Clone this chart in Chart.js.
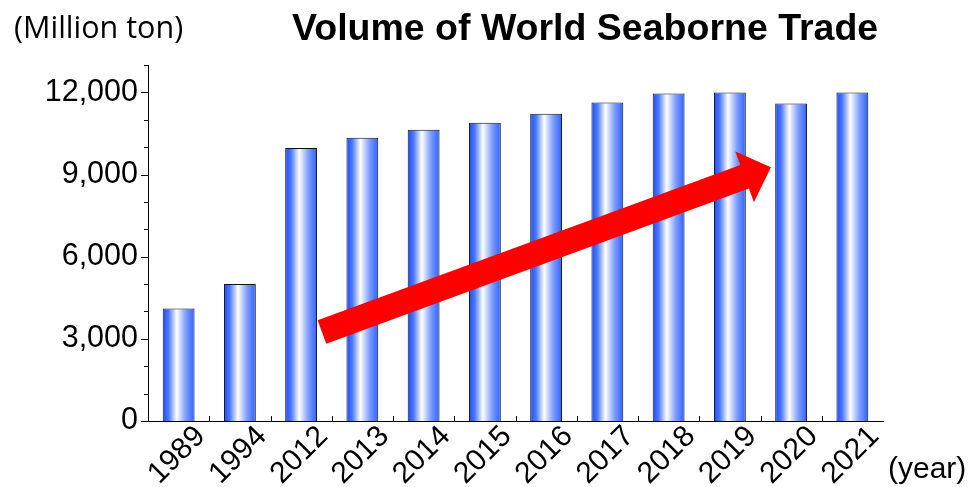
<!DOCTYPE html>
<html>
<head>
<meta charset="utf-8">
<script src="https://cdn.jsdelivr.net/npm/chart.js@4"></script>
<style>
  html, body { margin: 0; padding: 0; background: #fff; }
  #wrap { width: 976px; height: 487px; }
</style>
</head>
<body>
<div id="wrap"><canvas id="tradeChart"></canvas></div>
<script>
// Values (million ton)
const years = ['1989', '1994', '2012', '2013', '2014', '2015', '2016', '2017', '2018', '2019', '2020', '2021'];
const volumes = [4110, 5000, 9970, 10340, 10640, 10890, 11220, 11630, 11960, 12000, 11590, 12000];
const yMin = 0;
const yMax = 13000;
const majorStep = 3000;
const minorStep = 1000;

// Trend arrow, in data units (category index, value)
const arrowFrom = { x: 2.34, y: 3250 };
const arrowTo = { x: 9.67, y: 9270 };

const barFrac = 0.52;

// Bar fill: horizontal blue-white-blue gradient per bar
function barGradient(context) {
    const chart = context.chart;
    const xScale = chart.scales.x;
    if (!chart.chartArea || !xScale) return '#4a78ff';
    const center = xScale.getPixelForValue(context.dataIndex);
    const half = (xScale.width / years.length) * barFrac / 2;
    const g = chart.ctx.createLinearGradient(center - half, 0, center + half, 0);
    g.addColorStop(0, '#1a4cff');
    g.addColorStop(0.18, '#4a77ff');
    g.addColorStop(0.44, '#ffffff');
    g.addColorStop(0.72, '#7f9eff');
    g.addColorStop(1, '#2f60ff');
    return g;
}

// Axis ticks, arrow and text labels
const decorations = {
    id: 'decorations',
    afterDatasetsDraw(chart) {
        const { ctx, scales: { x, y } } = chart;

        // trend arrow
        const x0 = x.getPixelForValue(arrowFrom.x), y0 = y.getPixelForValue(arrowFrom.y);
        const x1 = x.getPixelForValue(arrowTo.x), y1 = y.getPixelForValue(arrowTo.y);
        const len = Math.hypot(x1 - x0, y1 - y0);
        const ang = Math.atan2(y1 - y0, x1 - x0);
        const shaft = 25, headW = 54, headL = 28;
        ctx.save();
        ctx.translate(x0, y0);
        ctx.rotate(ang);
        ctx.beginPath();
        ctx.moveTo(0, -shaft / 2);
        ctx.lineTo(len - headL, -shaft / 2);
        ctx.lineTo(len - headL, -headW / 2);
        ctx.lineTo(len, 0);
        ctx.lineTo(len - headL, headW / 2);
        ctx.lineTo(len - headL, shaft / 2);
        ctx.lineTo(0, shaft / 2);
        ctx.closePath();
        ctx.fillStyle = '#ff0000';
        ctx.fill();
        ctx.restore();
    },
    afterDraw(chart) {
        const { ctx, scales: { x, y } } = chart;
        ctx.save();
        ctx.strokeStyle = '#000';
        ctx.lineWidth = 1;

        // y ticks, outward: long at labelled values, short between
        for (let v = yMin; v <= yMax; v += minorStep) {
            const py = Math.round(y.getPixelForValue(v)) + 0.5;
            const len = v % majorStep === 0 ? 7 : 4;
            ctx.beginPath();
            ctx.moveTo(x.left - len, py);
            ctx.lineTo(x.left, py);
            ctx.stroke();
        }

        // x ticks between categories, pointing up
        for (let i = 0; i < years.length - 1; i++) {
            const px = Math.round(x.getPixelForValue(i + 0.5)) + 0.5;
            ctx.beginPath();
            ctx.moveTo(px, y.bottom);
            ctx.lineTo(px, y.bottom - 5);
            ctx.stroke();
        }

        // titles
        ctx.fillStyle = '#000';
        ctx.textBaseline = 'alphabetic';
        ctx.textAlign = 'left';
        ctx.font = 'bold 37.5px "Liberation Sans", Arial, sans-serif';
        ctx.fillText('Volume of World Seaborne Trade', 292, 40);
        ctx.font = '30.5px "Open Sans", sans-serif';
        ctx.fillText('(Million ton)', 14, 38);
        ctx.font = '30px "Liberation Sans", Arial, sans-serif';
        ctx.fillText('(year)', 888, 478);
        ctx.restore();
    }
};

const ctx = document.getElementById('tradeChart').getContext('2d');

new Chart(ctx, {
    type: 'bar',
    data: {
        labels: years,
        datasets: [{
            data: volumes,
            backgroundColor: barGradient,
            borderColor: '#111',
            borderWidth: 1,
            barPercentage: barFrac,
            categoryPercentage: 1
        }]
    },
    options: {
        responsive: true,
        maintainAspectRatio: false,
        animation: false,
        layout: {
            padding: { top: 65, right: 93, bottom: 0, left: 0 }
        },
        plugins: {
            legend: { display: false },
            tooltip: { enabled: false },
            title: { display: false }
        },
        scales: {
            x: {
                grid: { display: false },
                border: { display: true, color: '#000', width: 1 },
                ticks: {
                    color: '#000',
                    font: { family: '"Liberation Sans", Arial, sans-serif', size: 30 },
                    maxRotation: 45,
                    minRotation: 45,
                    labelOffset: 22,
                    padding: -10,
                    autoSkip: false
                },
                afterFit(scale) { scale.height = 66; }
            },
            y: {
                min: yMin,
                max: yMax,
                grid: { display: false },
                border: { display: true, color: '#000', width: 1 },
                ticks: {
                    stepSize: minorStep,
                    autoSkip: false,
                    color: '#000',
                    padding: 2,
                    font: { family: '"Liberation Sans", Arial, sans-serif', size: 30.5 },
                    callback: v => (v % majorStep === 0 && v < yMax) ? v.toLocaleString('en-US') : ''
                },
                afterFit(scale) { scale.width = 148; }
            }
        }
    },
    plugins: [decorations]
});
</script>
</body>
</html>
